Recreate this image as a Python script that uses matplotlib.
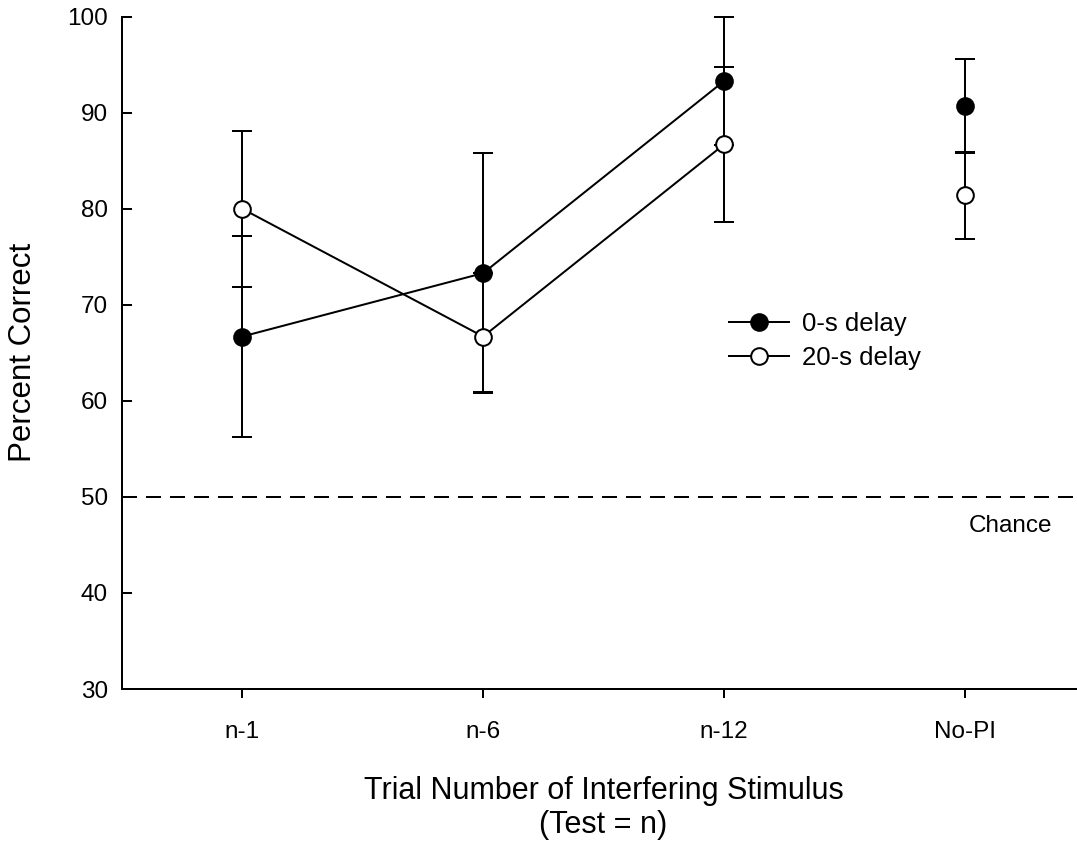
import matplotlib
matplotlib.use("Agg")
import matplotlib.pyplot as plt
from matplotlib.lines import Line2D

plt.rcParams['font.family'] = ['Liberation Sans', 'DejaVu Sans']

categories = ['n-1', 'n-6', 'n-12', 'No-PI']
zero_delay = [66.7, 73.3, 93.3, 90.7]
zero_err = [10.5, 12.5, 6.7, 4.9]
twenty_delay = [80.0, 66.7, 86.7, 81.4]
twenty_err_low = [8.1, 5.8, 8.1, 4.5]
twenty_err_high = [8.1, 6.6, 8.1, 4.5]
chance_level = 50
yticks = [30, 40, 50, 60, 70, 80, 90, 100]

W, H = 1077, 846
fig = plt.figure(figsize=(W / 100, H / 100), dpi=100)
left, right, top, bottom = 121.8, 1085.4, 16.7, 689.0
ax = fig.add_axes([left / W, 1 - bottom / H, (right - left) / W, (bottom - top) / H])

x = list(range(1, len(categories) + 1))
lw = 1.44
ms = 12

# error bars (drawn beneath everything)
for vals, errs in [(zero_delay, zero_err),
                   (twenty_delay, [twenty_err_low, twenty_err_high])]:
    eb = ax.errorbar(x, vals, yerr=errs, fmt='none', ecolor='black',
                     elinewidth=lw, capsize=7.2, capthick=lw, zorder=1)
    for art in list(eb.lines[1]) + list(eb.lines[2]):
        art.set_clip_on(False)

# connecting lines (first three conditions only)
ax.plot(x[:3], zero_delay[:3], color='black', lw=lw, zorder=2)
ax.plot(x[:3], twenty_delay[:3], color='black', lw=lw, zorder=2)

# markers
ax.plot(x, zero_delay, 'o', ms=ms, mfc='black', mec='black', mew=lw,
        ls='none', zorder=3, clip_on=False)
ax.plot(x, twenty_delay, 'o', ms=ms, mfc='white', mec='black', mew=lw,
        ls='none', zorder=4, clip_on=False)

# chance line
ax.axhline(chance_level, color='black', lw=lw, dashes=[7.5, 4.5], zorder=1)
ax.text(4.19, 47.0, 'Chance', ha='center', va='center', fontsize=17.5)

ax.set_xlim(0.5, 4.5)
ax.set_ylim(30, 100)
ax.set_xticks(x)
ax.set_xticklabels(categories)
ax.set_yticks(yticks)

for s in ['top', 'right']:
    ax.spines[s].set_visible(False)
for s in ['left', 'bottom']:
    ax.spines[s].set_linewidth(lw)

ax.tick_params(axis='y', direction='in', length=7.2, width=lw, labelsize=17.5, pad=10)
ax.tick_params(axis='x', direction='out', length=6.5, width=lw, labelsize=17.5, pad=16.5)

ax.set_ylabel('Percent Correct', fontsize=22.5, labelpad=21)
ax.set_xlabel('Trial Number of Interfering Stimulus\n(Test = n)', fontsize=22,
              labelpad=24, linespacing=1.15)

handles = [
    Line2D([], [], color='black', lw=lw, marker='o', ms=ms, mfc='black', mec='black', mew=lw),
    Line2D([], [], color='black', lw=lw, marker='o', ms=ms, mfc='white', mec='black', mew=lw),
]
leg = ax.legend(handles, ['0-s delay', '20-s delay'], frameon=False, fontsize=18.5,
                loc='upper left', bbox_to_anchor=(729 / W, 1 - 312 / H),
                bbox_transform=fig.transFigure, borderpad=0, borderaxespad=0,
                handlelength=2.33, handletextpad=0.5, labelspacing=0.39)

fig.savefig('out.png', dpi=100)
